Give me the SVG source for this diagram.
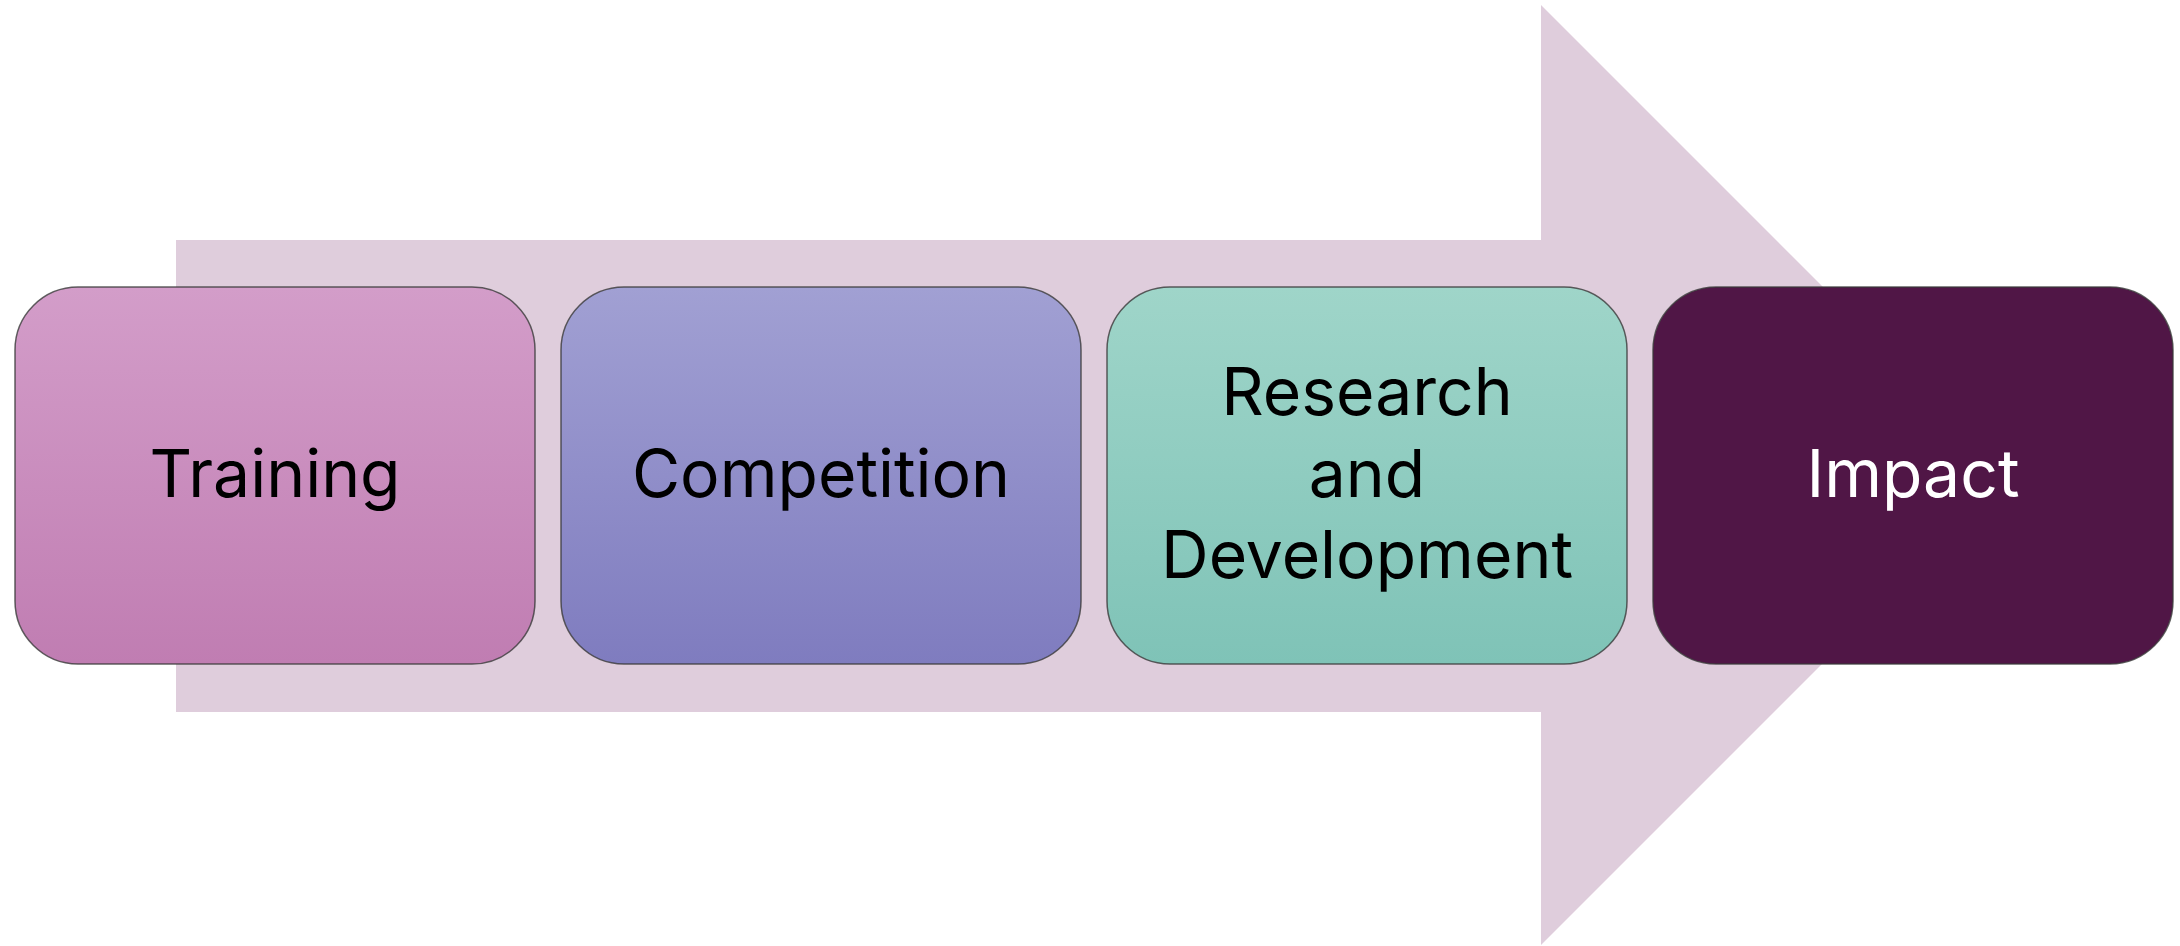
<svg xmlns="http://www.w3.org/2000/svg" width="2180" height="946" viewBox="0 0 2180 946">
  <defs>
    <linearGradient id="gTraining" x1="0" y1="0" x2="0" y2="1">
      <stop offset="0" stop-color="#D39DC9"/>
      <stop offset="1" stop-color="#C07DB2"/>
    </linearGradient>
    <linearGradient id="gCompetition" x1="0" y1="0" x2="0" y2="1">
      <stop offset="0" stop-color="#A1A0D3"/>
      <stop offset="1" stop-color="#7F7CBF"/>
    </linearGradient>
    <linearGradient id="gRD" x1="0" y1="0" x2="0" y2="1">
      <stop offset="0" stop-color="#9FD5C9"/>
      <stop offset="1" stop-color="#7FC3B7"/>
    </linearGradient>
  </defs>
  <style>
    .box { stroke: #3a3a3a; stroke-width: 1.5; stroke-opacity: 0.8; }
    .lbl { font-family: Inter, "Noto Sans", sans-serif; font-size: 66px; text-anchor: middle; fill: #000000; }
    .lbl-light { fill: #FFFFFF; }
  </style>
  <rect x="0" y="0" width="2180" height="946" fill="#FFFFFF"/>
  <g id="arrow">
    <polygon points="176,240 1541,240 1541,5 2011,475 1541,945 1541,712 176,712" fill="#DFCDDC"/>
  </g>
  <g id="connectors"></g>
  <g id="node-training">
    <rect class="box" x="15" y="287" width="520" height="377" rx="63" ry="63" fill="url(#gTraining)"/>
    <text class="lbl" x="275" y="497">Training</text>
  </g>
  <g id="node-competition">
    <rect class="box" x="561" y="287" width="520" height="377" rx="63" ry="63" fill="url(#gCompetition)"/>
    <text class="lbl" x="821" y="497">Competition</text>
  </g>
  <g id="node-rd">
    <rect class="box" x="1107" y="287" width="520" height="377" rx="63" ry="63" fill="url(#gRD)"/>
    <text class="lbl" x="1367" y="415">Research</text>
    <text class="lbl" x="1367" y="497">and</text>
    <text class="lbl" x="1367" y="578">Development</text>
  </g>
  <g id="node-impact">
    <rect class="box" x="1653" y="287" width="520" height="377" rx="63" ry="63" fill="#501646"/>
    <text class="lbl lbl-light" x="1913" y="497">Impact</text>
  </g>
</svg>
